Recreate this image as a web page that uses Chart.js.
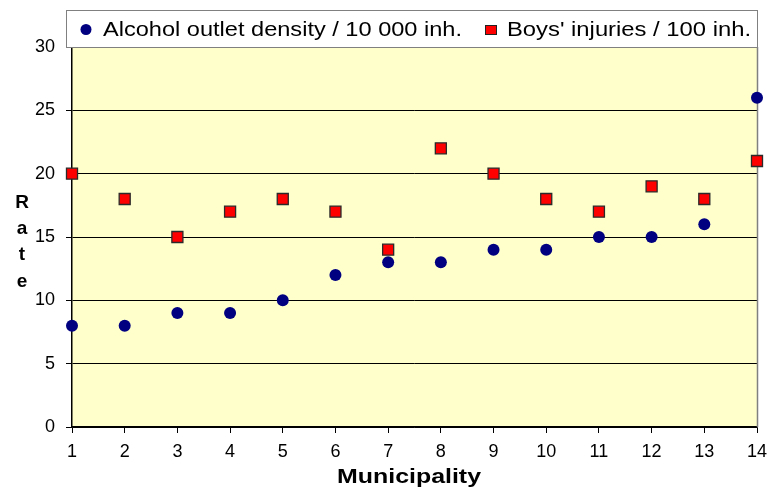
<!DOCTYPE html>
<html>
<head>
<meta charset="utf-8">
<script src="https://cdn.jsdelivr.net/npm/chart.js@4/dist/chart.umd.min.js"></script>
<style>
html,body{margin:0;padding:0;background:#fff;}
#wrap{width:768px;height:489px;}
</style>
</head>
<body>
<div id="wrap"><canvas id="c" width="768" height="489"></canvas></div>
<script>
const municipalities = ['1','2','3','4','5','6','7','8','9','10','11','12','13','14'];
const alcoholDensity = [8, 8, 9, 9, 10, 12, 13, 13, 14, 14, 15, 15, 16, 26];
const boysInjuries = [20, 18, 15, 17, 18, 17, 14, 22, 20, 18, 17, 19, 18, 21];
const seriesNames = ['Alcohol outlet density / 10 000 inh.', "Boys' injuries / 100 inh."];
const yAxisTitle = 'Rate';
const xAxisTitle = 'Municipality';

const FONT = '"Liberation Sans", Arial, sans-serif';

function drawStretched(ctx, text, x, y, targetW, font) {
  ctx.save();
  ctx.font = font;
  const w = ctx.measureText(text).width;
  ctx.translate(x, y);
  ctx.scale(targetW / w, 1);
  ctx.fillText(text, 0, 0);
  ctx.restore();
}

const decor = {
  id: 'decor',
  beforeDraw(chart) {
    const {ctx, chartArea: a} = chart;
    ctx.save();
    ctx.fillStyle = '#FFFFCC';
    ctx.fillRect(a.left, a.top, a.right - a.left, a.bottom - a.top);
    ctx.restore();
  },
  beforeDatasetsDraw(chart) {
    const {ctx, chartArea: a} = chart;
    ctx.save();
    ctx.strokeStyle = '#808080';
    ctx.lineWidth = 1.5;
    ctx.beginPath();
    ctx.moveTo(a.right + 0.5, a.top);
    ctx.lineTo(a.right + 0.5, a.bottom);
    ctx.stroke();
    ctx.restore();
  },
  afterDraw(chart) {
    const {ctx, chartArea: a} = chart;
    ctx.save();
    const lx = 66, ly = 10, lw = a.right - 66, lh = a.top - 10;
    ctx.fillStyle = '#fff';
    ctx.fillRect(lx, ly, lw, lh);
    ctx.strokeStyle = '#808080';
    ctx.lineWidth = 1;
    ctx.strokeRect(lx + 0.5, ly + 0.5, lw, lh);
    ctx.fillStyle = '#000080';
    ctx.beginPath();
    ctx.arc(86, 29.5, 5.5, 0, Math.PI * 2);
    ctx.fill();
    ctx.fillStyle = '#000';
    ctx.textBaseline = 'alphabetic';
    ctx.textAlign = 'left';
    drawStretched(ctx, seriesNames[0], 103, 36, 359, '20px ' + FONT);
    ctx.fillStyle = '#FF0000';
    ctx.fillRect(485, 25.5, 12, 9);
    ctx.strokeStyle = '#222';
    ctx.lineWidth = 1;
    ctx.strokeRect(485.5, 25.5, 11, 9);
    ctx.fillStyle = '#000';
    drawStretched(ctx, seriesNames[1], 507, 36, 244, '20px ' + FONT);
    ctx.font = 'bold 19px ' + FONT;
    ctx.textAlign = 'center';
    const letters = yAxisTitle.split('');
    const base = [208, 234, 260, 287];
    letters.forEach((ch, i) => ctx.fillText(ch, 22, base[i]));
    ctx.textAlign = 'left';
    drawStretched(ctx, xAxisTitle, 337, 483, 144, 'bold 20px ' + FONT);
    ctx.restore();
  }
};

new Chart(document.getElementById('c'), {
  type: 'line',
  data: {
    labels: municipalities,
    datasets: [
      {
        label: seriesNames[0],
        data: alcoholDensity,
        showLine: false,
        pointStyle: 'circle',
        pointRadius: 6,
        pointBackgroundColor: '#000080',
        pointBorderColor: '#000080',
        pointBorderWidth: 0,
        clip: false
      },
      {
        label: seriesNames[1],
        data: boysInjuries,
        showLine: false,
        pointStyle: 'rect',
        pointRadius: 7.8,
        pointBackgroundColor: '#FF0000',
        pointBorderColor: '#2a2a2a',
        pointBorderWidth: 1.3,
        clip: false
      }
    ]
  },
  options: {
    responsive: false,
    animation: false,
    layout: {padding: {top: 47, right: 11, left: 0, bottom: 0}},
    plugins: {legend: {display: false}, tooltip: {enabled: false}},
    scales: {
      x: {
        offset: false,
        grid: {drawOnChartArea: false, drawTicks: true, tickLength: 6, color: '#000'},
        border: {color: '#000', width: 1.5},
        ticks: {color: '#000', font: {size: 18, family: FONT}, padding: 8, maxRotation: 0, autoSkip: false},
        afterFit: s => { s.height = 62; s.paddingLeft = 0; s.paddingRight = 0; }
      },
      y: {
        min: 0, max: 30,
        grid: {color: '#000', tickLength: 6, lineWidth: 1},
        border: {color: '#000', width: 1.5},
        ticks: {stepSize: 5, color: '#000', font: {size: 18, family: FONT}, padding: 11},
        afterFit: s => { s.width = 72; s.paddingTop = 0; s.paddingBottom = 0; }
      }
    }
  },
  plugins: [decor]
});
</script>
</body>
</html>
